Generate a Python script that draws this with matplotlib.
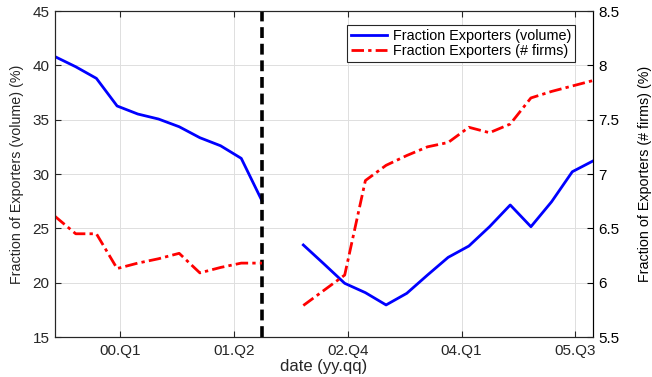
import matplotlib
matplotlib.use("Agg")
import matplotlib.pyplot as plt
import numpy as np

plt.rcParams['font.family'] = ['Liberation Sans', 'DejaVu Sans']

# quarterly observations (decimal years), one missing quarter after the break
dates = 1999.2125 + 0.25 * np.arange(27)

frac_volume = [40.8, 39.87, 38.8, 36.26, 35.52, 35.06, 34.35, 33.34, 32.6, 31.44, 27.54, np.nan,
               23.47, 21.72, 19.94, 19.08, 17.95, 19.02, 20.7, 22.33, 23.37, 25.15, 27.15, 25.15,
               27.45, 30.21, 31.2]
frac_firms = [6.61, 6.45, 6.45, 6.13, 6.18, 6.22, 6.27, 6.09, 6.14, 6.18, 6.18, np.nan,
              5.79, 5.93, 6.07, 6.94, 7.08, 7.17, 7.25, 7.29, 7.43, 7.38, 7.46, 7.70,
              7.76, 7.81, 7.86]
break_idx = 10

tick_pos = [2000.0, 2001.375, 2002.75, 2004.125, 2005.5]
tick_labels = ['00.Q1', '01.Q2', '02.Q4', '04.Q1', '05.Q3']

dark = '#262626'

fig = plt.figure(figsize=(6.52, 3.77), dpi=100)
ax = fig.add_axes([0.0844, 0.1061, 0.8251, 0.8647])
ax2 = ax.twinx()

l1, = ax.plot(dates, frac_volume, color=(0, 0, 1), lw=2.0, label='Fraction Exporters (volume)')
ax.axvline(dates[break_idx], color='black', lw=2.6, dashes=(3, 1.6))
l2, = ax2.plot(dates, frac_firms, color=(1, 0, 0), lw=2.0, dashes=(4.5, 1.5, 1.2, 1.5),
               label='Fraction Exporters (# firms)')

ax.set_xlim(dates[0], dates[-1])
ax.set_ylim(15, 45)
ax2.set_ylim(5.5, 8.5)
ax.set_yticks([15, 20, 25, 30, 35, 40, 45])
ax2.set_yticks([5.5, 6, 6.5, 7, 7.5, 8, 8.5])
ax2.set_yticklabels(['5.5', '6', '6.5', '7', '7.5', '8', '8.5'])
ax.set_xticks(tick_pos)
ax.set_xticklabels(tick_labels)

ax.grid(True, color='#dedede', lw=0.7)
ax.set_axisbelow(True)

ax.tick_params(axis='x', direction='in', length=4, top=True, labelsize=11, colors=dark, pad=5)
ax.tick_params(axis='y', direction='in', length=4, labelsize=11, colors=dark, pad=4)
ax2.tick_params(axis='y', direction='in', length=4, labelsize=11, colors='black', pad=4)
for s in ax.spines.values():
    s.set_color(dark)
    s.set_linewidth(0.8)
for name, s in ax2.spines.items():
    s.set_color('black' if name == 'right' else dark)
    s.set_linewidth(0.8)

ax.set_xlabel('date (yy.qq)', fontsize=12, color=dark, labelpad=1)
ax.set_ylabel('Fraction of Exporters (volume) (%)', fontsize=10.3, color=dark, labelpad=6)
ax2.set_ylabel('Fraction of Exporters (# firms) (%)', fontsize=10.3, color='black', labelpad=13)

leg = ax2.legend(handles=[l1, l2], loc='upper right', bbox_to_anchor=(0.9665, 0.957),
                 borderaxespad=0, fontsize=10.4, fancybox=False, framealpha=1,
                 edgecolor=dark, handlelength=2.5, labelspacing=0.1, borderpad=0.25,
                 handletextpad=0.4)
leg.get_frame().set_linewidth(0.8)

fig.savefig('out.png', dpi=100)
